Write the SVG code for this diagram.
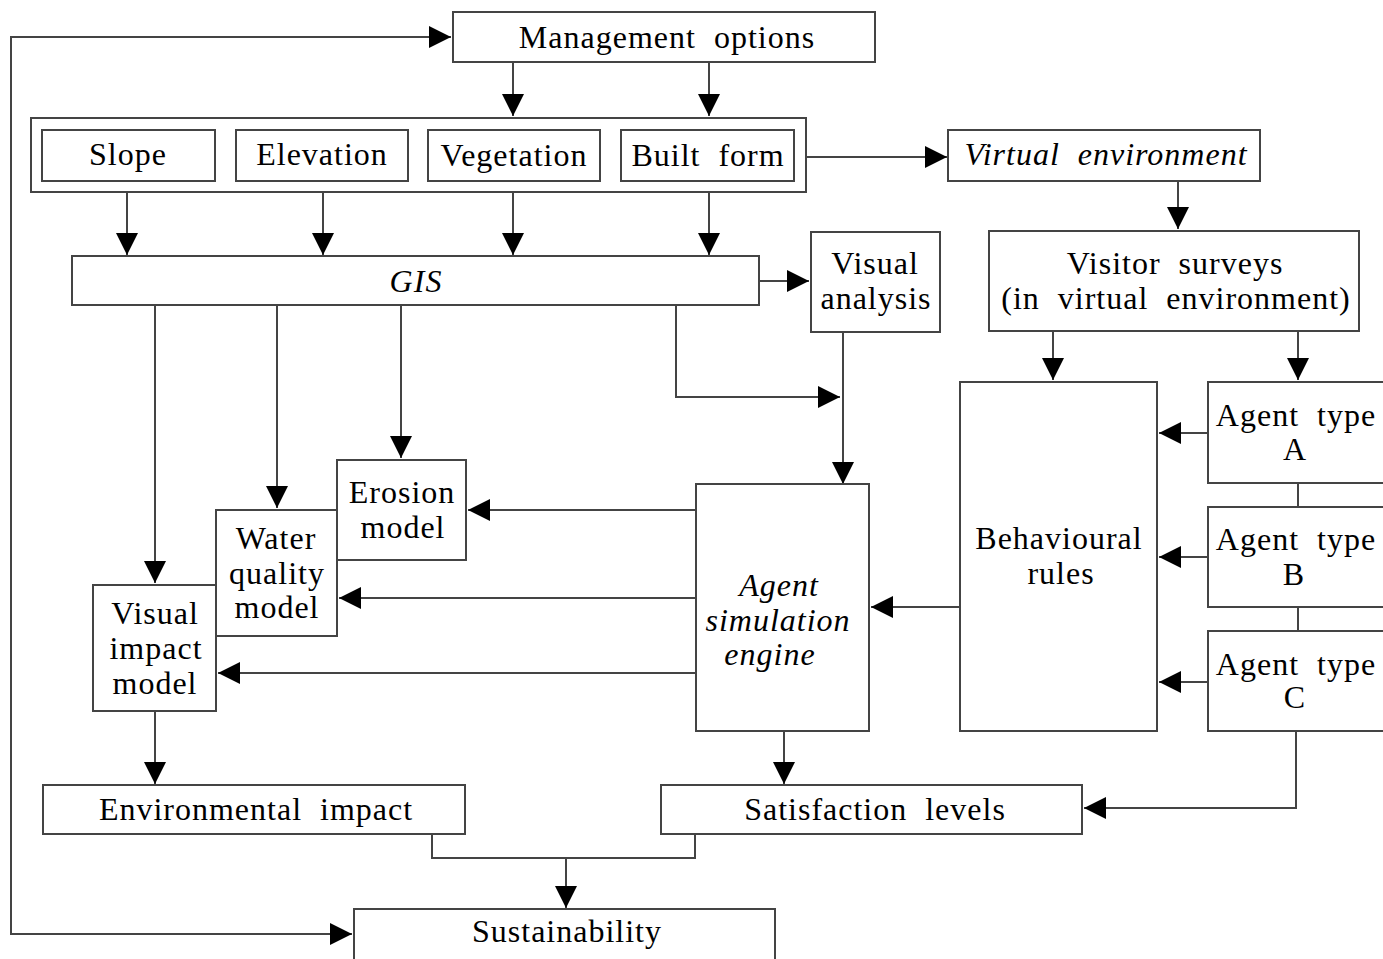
<svg xmlns="http://www.w3.org/2000/svg" width="1383" height="959" viewBox="0 0 1383 959">
<style>
.box{fill:#fff;stroke:#444;stroke-width:2}
.c{fill:none;stroke:#444;stroke-width:2}
text{font-family:"Liberation Serif","Times New Roman",serif;font-size:32px;fill:#000;text-anchor:middle;letter-spacing:1px;word-spacing:9px}
.i{font-style:italic}
</style>
<defs>
<marker id="ah" viewBox="0 0 22 22" markerWidth="22" markerHeight="22" refX="22" refY="11" orient="auto" markerUnits="userSpaceOnUse">
<path d="M0,0 L22,11 L0,22 z" fill="#000"/>
</marker>
</defs>
<g id="connectors">
<path class="c" d="M513,62 V116" marker-end="url(#ah)"/>
<path class="c" d="M709,62 V116" marker-end="url(#ah)"/>
<path class="c" d="M127,181 V255" marker-end="url(#ah)"/>
<path class="c" d="M323,181 V255" marker-end="url(#ah)"/>
<path class="c" d="M513,181 V255" marker-end="url(#ah)"/>
<path class="c" d="M709,181 V255" marker-end="url(#ah)"/>
<path class="c" d="M759,281 H809" marker-end="url(#ah)"/>
<path class="c" d="M806,157 H947" marker-end="url(#ah)"/>
<path class="c" d="M1178,181 V229" marker-end="url(#ah)"/>
<path class="c" d="M1053,331 V380" marker-end="url(#ah)"/>
<path class="c" d="M1298,331 V380" marker-end="url(#ah)"/>
<path class="c" d="M1208,433 H1159" marker-end="url(#ah)"/>
<path class="c" d="M1208,557 H1159" marker-end="url(#ah)"/>
<path class="c" d="M1208,682 H1159" marker-end="url(#ah)"/>
<path class="c" d="M1298,483 V507 M1298,607 V631"/>
<path class="c" d="M1296,731 V808 H1084" marker-end="url(#ah)"/>
<path class="c" d="M960,607 H871" marker-end="url(#ah)"/>
<path class="c" d="M843,332 V484" marker-end="url(#ah)"/>
<path class="c" d="M676,305 V397 H840" marker-end="url(#ah)"/>
<path class="c" d="M401,305 V458" marker-end="url(#ah)"/>
<path class="c" d="M277,305 V508" marker-end="url(#ah)"/>
<path class="c" d="M155,305 V583" marker-end="url(#ah)"/>
<path class="c" d="M696,510 H468" marker-end="url(#ah)"/>
<path class="c" d="M696,598 H339" marker-end="url(#ah)"/>
<path class="c" d="M696,673 H218" marker-end="url(#ah)"/>
<path class="c" d="M155,711 V784" marker-end="url(#ah)"/>
<path class="c" d="M784,731 V784" marker-end="url(#ah)"/>
<path class="c" d="M432,834 V858 H695 V834"/>
<path class="c" d="M566,858 V908" marker-end="url(#ah)"/>
<path class="c" d="M11,486 V37 H451" marker-end="url(#ah)"/>
<path class="c" d="M11,486 V934 H352" marker-end="url(#ah)"/>
</g>
<g id="management"><rect class="box" x="453" y="12" width="422" height="50"/><text x="667" y="48">Management options</text></g>
<g id="factors"><rect class="box" x="31" y="118" width="775" height="74"/></g>
<g id="slope"><rect class="box" x="42" y="130" width="173" height="51"/><text x="128" y="165">Slope</text></g>
<g id="elevation"><rect class="box" x="236" y="130" width="172" height="51"/><text x="322" y="165">Elevation</text></g>
<g id="vegetation"><rect class="box" x="428" y="130" width="172" height="51"/><text x="514" y="166">Vegetation</text></g>
<g id="builtform"><rect class="box" x="621" y="130" width="173" height="51"/><text x="708" y="166">Built form</text></g>
<g id="virtual"><rect class="box" x="948" y="130" width="312" height="51"/><text class="i" x="1106" y="165">Virtual environment</text></g>
<g id="gis"><rect class="box" x="72" y="256" width="687" height="49"/><text class="i" x="416" y="292">GIS</text></g>
<g id="visualanalysis"><rect class="box" x="811" y="232" width="129" height="100"/><text x="875" y="274">Visual</text><text x="876" y="309">analysis</text></g>
<g id="visitor"><rect class="box" x="989" y="231" width="370" height="100"/><text x="1175" y="274">Visitor surveys</text><text x="1176" y="309">(in virtual environment)</text></g>
<g id="behaviour"><rect class="box" x="960" y="382" width="197" height="349"/><text x="1059" y="549">Behavioural</text><text x="1061" y="584">rules</text></g>
<g id="agentA"><rect class="box" x="1208" y="382" width="200" height="101"/><text x="1296" y="426">Agent type</text><text x="1295" y="460">A</text></g>
<g id="agentB"><rect class="box" x="1208" y="507" width="200" height="100"/><text x="1296" y="550">Agent type</text><text x="1294" y="585">B</text></g>
<g id="agentC"><rect class="box" x="1208" y="631" width="200" height="100"/><text x="1296" y="675">Agent type</text><text x="1295" y="708">C</text></g>
<g id="agentsim"><rect class="box" x="696" y="484" width="173" height="247"/><text class="i" x="779" y="596">Agent</text><text class="i" x="778" y="631">simulation</text><text class="i" x="770" y="665">engine</text></g>
<g id="erosion"><rect class="box" x="337" y="460" width="129" height="100"/><text x="402" y="503">Erosion</text><text x="403" y="538">model</text></g>
<g id="water"><rect class="box" x="216" y="510" width="121" height="126"/><text x="276" y="549">Water</text><text x="277" y="584">quality</text><text x="277" y="618">model</text></g>
<g id="visualimpact"><rect class="box" x="93" y="585" width="123" height="126"/><text x="155" y="624">Visual</text><text x="156" y="659">impact</text><text x="155" y="694">model</text></g>
<g id="envimpact"><rect class="box" x="43" y="785" width="422" height="49"/><text x="256" y="820">Environmental impact</text></g>
<g id="satisfaction"><rect class="box" x="661" y="785" width="421" height="49"/><text x="875" y="820">Satisfaction levels</text></g>
<g id="sustainability"><rect class="box" x="354" y="909" width="421" height="52"/><text x="567" y="942">Sustainability</text></g>
</svg>
